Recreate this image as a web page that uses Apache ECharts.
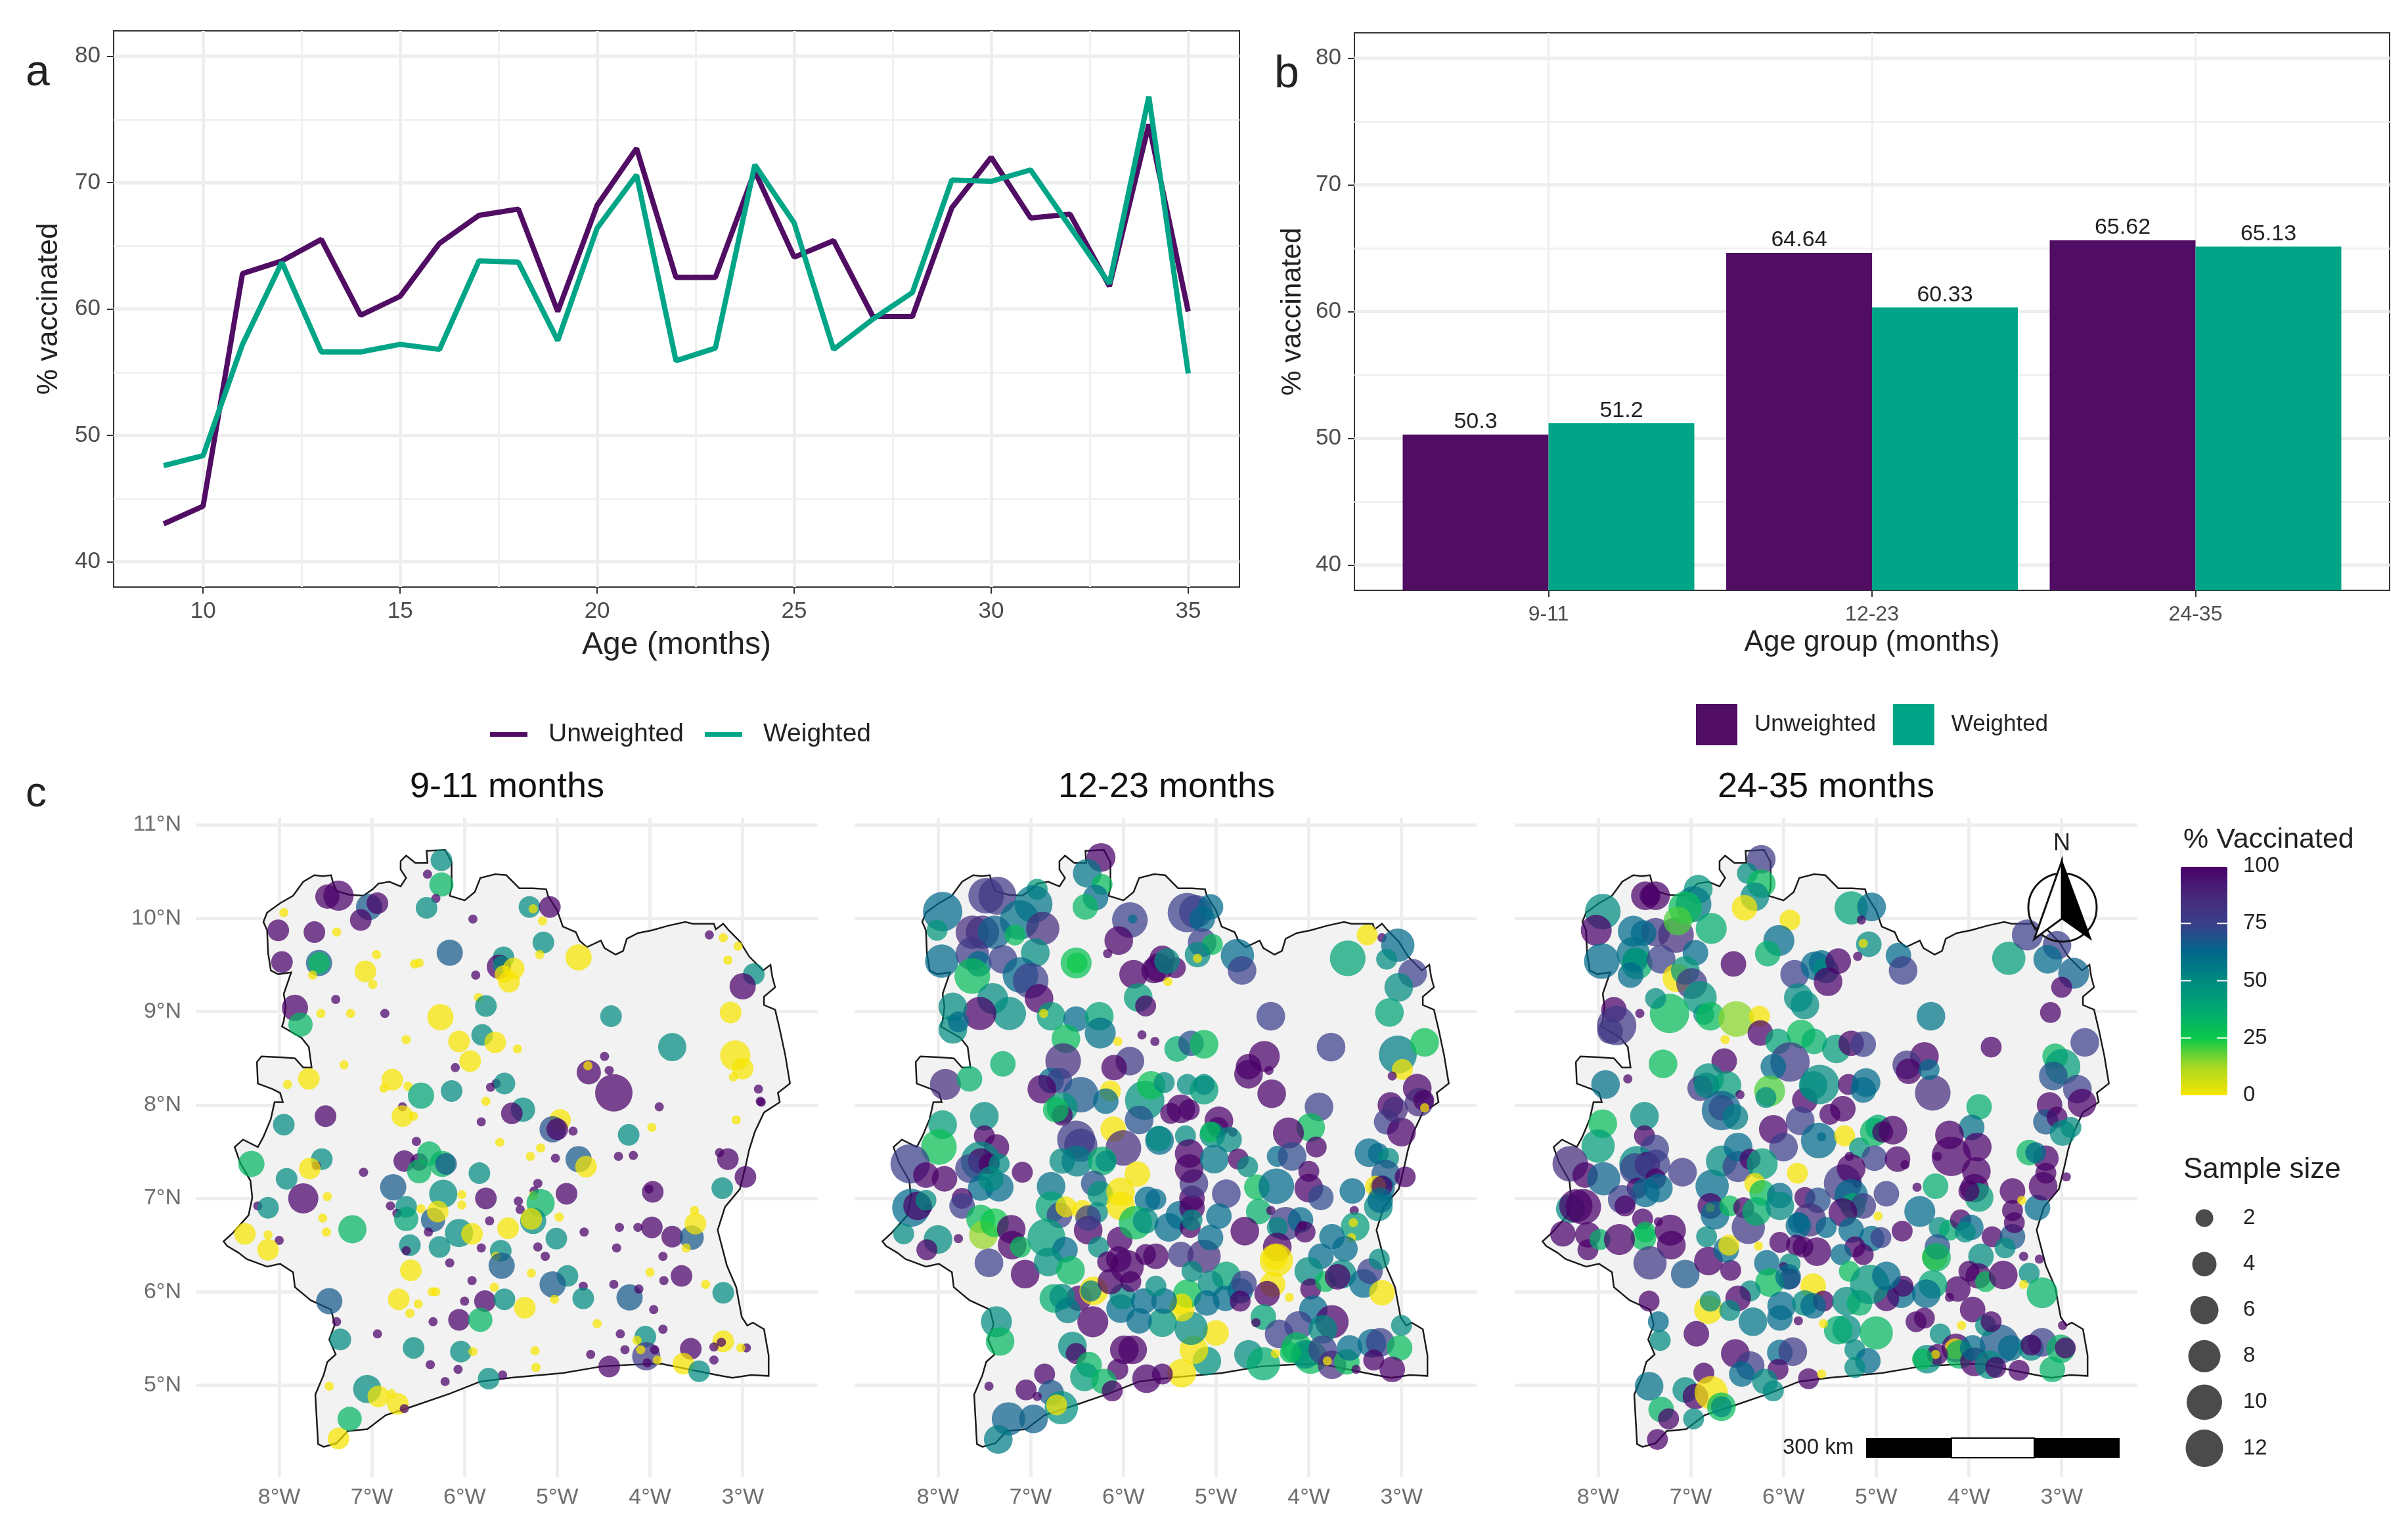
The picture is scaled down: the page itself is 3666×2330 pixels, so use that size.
<!DOCTYPE html>
<html>
<head>
<meta charset="utf-8">
<title>Vaccination coverage</title>
<style>html,body{margin:0;background:#fff}#main{width:3666px;height:2330px}</style>
<script src="https://cdn.jsdelivr.net/npm/echarts@6/dist/echarts.min.js"></script>
</head>
<body>
<div id="main"></div>
<script>
// panel a
var ages = [9,10,11,12,13,14,15,16,17,18,19,20,21,22,23,24,25,26,27,28,29,30,31,32,33,34,35];
var unweightedByAge = [43.0,44.4,62.8,63.8,65.5,59.5,61.0,65.2,67.4,67.9,59.8,68.2,72.7,62.5,62.5,70.9,64.1,65.4,59.4,59.4,68.0,72.0,67.2,67.5,61.8,74.6,59.8];
var weightedByAge = [47.6,48.4,57.2,63.7,56.6,56.6,57.2,56.8,63.8,63.7,57.5,66.4,70.6,55.9,56.9,71.4,66.8,56.8,59.2,61.3,70.2,70.1,71.0,66.5,62.0,76.8,54.9];

// panel b
var ageGroups = ['9-11','12-23','24-35'];
var unweightedByGroup = [50.3,64.64,65.62];
var weightedByGroup = [51.2,60.33,65.13];

// panel c: country outline [lon, lat]
var outline = [[-8.17,9.96],[-8.13,10.06],[-7.99,10.16],[-7.85,10.24],[-7.74,10.39],[-7.62,10.46],[-7.53,10.45],[-7.44,10.46],[-7.42,10.38],[-7.38,10.29],[-7.24,10.25],[-7.09,10.24],[-6.99,10.31],[-6.93,10.37],[-6.81,10.39],[-6.69,10.34],[-6.63,10.43],[-6.69,10.52],[-6.69,10.61],[-6.63,10.67],[-6.53,10.59],[-6.40,10.59],[-6.41,10.72],[-6.21,10.73],[-6.14,10.6],[-6.14,10.33],[-6.16,10.24],[-6.0,10.19],[-5.89,10.28],[-5.83,10.43],[-5.67,10.47],[-5.55,10.46],[-5.41,10.32],[-5.26,10.32],[-5.12,10.31],[-5.10,10.24],[-5.0,10.08],[-4.94,9.91],[-4.80,9.85],[-4.76,9.76],[-4.68,9.69],[-4.53,9.76],[-4.49,9.68],[-4.37,9.61],[-4.29,9.65],[-4.25,9.78],[-4.13,9.84],[-3.98,9.87],[-3.80,9.92],[-3.62,9.96],[-3.54,9.94],[-3.31,9.94],[-3.29,9.88],[-3.21,9.94],[-3.15,9.87],[-3.03,9.75],[-2.93,9.59],[-2.78,9.44],[-2.70,9.50],[-2.68,9.37],[-2.65,9.26],[-2.77,9.16],[-2.77,9.07],[-2.65,9.02],[-2.60,8.81],[-2.54,8.53],[-2.49,8.23],[-2.62,8.13],[-2.60,8.03],[-2.77,7.92],[-2.87,7.71],[-2.93,7.52],[-2.97,7.34],[-3.03,7.10],[-3.19,6.91],[-3.27,6.66],[-3.17,6.28],[-3.07,6.05],[-3.01,5.73],[-2.95,5.64],[-2.89,5.67],[-2.77,5.60],[-2.72,5.32],[-2.72,5.10],[-2.91,5.11],[-3.11,5.08],[-3.23,5.10],[-3.48,5.15],[-3.88,5.23],[-4.21,5.22],[-4.53,5.20],[-4.94,5.13],[-5.51,5.08],[-5.83,5.04],[-6.16,4.91],[-6.57,4.77],[-6.85,4.68],[-7.05,4.53],[-7.26,4.51],[-7.38,4.38],[-7.52,4.34],[-7.58,4.37],[-7.61,4.90],[-7.52,5.11],[-7.48,5.25],[-7.39,5.33],[-7.46,5.49],[-7.40,5.65],[-7.44,5.81],[-7.66,5.91],[-7.83,6.05],[-7.85,6.21],[-7.99,6.30],[-8.13,6.27],[-8.35,6.35],[-8.44,6.42],[-8.56,6.49],[-8.60,6.54],[-8.50,6.63],[-8.33,6.82],[-8.29,7.01],[-8.31,7.19],[-8.42,7.38],[-8.48,7.55],[-8.39,7.63],[-8.23,7.55],[-8.17,7.66],[-8.09,7.85],[-8.05,8.03],[-7.96,8.03],[-7.99,8.13],[-8.07,8.17],[-8.23,8.23],[-8.24,8.46],[-8.19,8.52],[-7.97,8.51],[-7.83,8.50],[-7.74,8.40],[-7.65,8.40],[-7.68,8.62],[-7.76,8.72],[-7.97,8.84],[-7.95,8.90],[-7.93,9.05],[-7.95,9.19],[-7.87,9.42],[-8.01,9.40],[-8.09,9.44],[-8.12,9.63],[-8.13,9.87]];

// clusters: [lon, lat, sample size, % vaccinated]
var clusters911 = [
[-6.25,10.62,3,50],[-6.25,10.36,4,33],[-6.40,10.47,1,100],[-6.31,10.21,1,100],[-7.36,10.24,7,100],[-7.48,10.23,4,100],[-7.03,10.12,5,67],[-6.94,10.16,3,100],[-7.12,9.98,3,100],[-6.41,10.11,3,50],[-7.95,10.06,1,0],[-8.01,9.87,3,100],[-7.62,9.85,3,100],[-7.38,9.85,1,0],[-7.97,9.53,3,100],[-7.57,9.52,5,67],[-7.57,9.52,3,30],[-7.64,9.39,1,0],[-6.95,9.61,1,0],[-7.07,9.43,3,0],[-6.99,9.29,1,0],[-6.54,9.51,1,0],[-6.49,9.52,1,0],[-6.16,9.63,5,67],[-5.91,9.99,1,100],[-5.88,9.39,1,100],[-5.58,9.58,3,50],[-5.63,9.48,4,100],[-5.60,9.50,2,50],[-5.47,9.46,3,0],[-5.58,9.40,2,0],[-5.52,9.32,3,0],[-5.30,10.12,3,50],[-5.26,10.10,1,0],[-5.08,10.12,3,100],[-5.16,9.97,1,0],[-5.15,9.74,3,50],[-5.19,9.61,1,0],[-4.77,9.58,5,0],[-3.36,9.82,1,100],[-3.21,9.79,1,0],[-3.05,9.70,1,0],[-3.16,9.55,1,0],[-2.88,9.40,3,50],[-3.0,9.27,5,100],[-3.13,8.99,3,0],[-4.42,8.95,3,50],[-3.76,8.62,6,50],[-3.08,8.53,7,0],[-3.0,8.39,3,0],[-3.10,8.30,1,0],[-4.49,8.52,1,100],[-4.44,8.37,1,100],[-4.66,8.35,4,100],[-4.67,8.42,1,0],[-4.39,8.13,12,100],[-3.90,7.98,1,100],[-2.83,8.17,1,100],[-2.81,8.04,1,100],[-2.80,8.03,1,100],[-3.07,7.84,1,0],
[-7.39,9.13,1,100],[-7.83,9.04,5,100],[-7.77,8.86,4,33],[-7.55,8.98,1,0],[-7.23,8.98,1,0],[-6.86,8.98,1,100],[-6.26,8.94,5,0],[-5.85,9.15,1,0],[-5.77,9.06,3,50],[-5.81,8.75,3,50],[-5.67,8.67,3,0],[-6.06,8.68,3,0],[-6.63,8.70,1,0],[-5.94,8.47,3,0],[-5.43,8.60,1,0],[-6.10,8.40,1,100],[-7.30,8.43,1,0],[-7.68,8.28,3,0],[-7.91,8.22,1,0],[-6.78,8.27,3,0],[-6.87,8.18,1,0],[-6.61,8.20,1,0],[-6.47,8.10,5,40],[-6.14,8.15,3,50],[-5.72,8.19,1,100],[-5.66,8.23,1,100],[-5.57,8.23,3,50],[-5.77,8.04,1,0],[-6.67,7.98,1,100],[-6.67,7.88,3,0],[-6.55,7.88,1,0],[-7.50,7.88,3,100],[-7.95,7.79,3,50],[-5.82,7.82,1,100],[-5.37,7.95,4,50],[-5.49,7.91,3,100],[-4.97,7.84,3,0],[-5.05,7.74,5,70],[-5.0,7.74,3,100],[-4.83,7.72,1,100],[-3.98,7.76,1,0],[-4.23,7.68,3,50],
[-6.52,7.61,1,100],[-5.62,7.60,1,0],[-5.18,7.54,1,0],[-5.29,7.45,1,0],[-5.02,7.43,1,100],[-4.77,7.42,5,67],[-4.69,7.34,3,0],[-4.34,7.45,1,100],[-4.18,7.46,1,100],[-3.25,7.49,1,100],[-3.16,7.42,3,100],[-2.97,7.23,3,100],[-3.22,7.11,3,50],[-3.97,7.07,3,100],[-4.01,7.10,1,100],[-7.54,7.42,3,50],[-7.60,7.35,1,100],[-7.67,7.32,3,0],[-8.30,7.37,5,33],[-7.92,7.21,3,50],[-7.09,7.28,1,100],[-6.65,7.40,3,100],[-6.49,7.39,2,100],[-6.38,7.48,4,33],[-6.24,7.37,5,33],[-6.20,7.37,3,67],[-6.49,7.29,4,33],[-5.84,7.27,3,50],[-6.77,7.12,5,67],[-6.23,7.05,6,50],[-7.74,7.0,7,100],[-7.48,7.02,1,0],[-8.23,6.92,1,100],[-8.12,6.90,3,50],[-7.53,6.79,1,0],[-7.49,6.64,1,0],[-8.37,6.62,3,0],[-8.12,6.61,1,0],[-8.0,6.55,1,100],[-8.12,6.45,3,0],[-7.21,6.67,6,33],[-6.80,6.92,1,100],[-6.63,6.91,3,50],[-6.73,6.84,1,100],[-6.63,6.78,4,40],[-6.47,6.89,1,0],[-6.34,6.77,4,67],[-6.29,6.86,3,0],[-6.03,7.04,1,0],[-6.03,6.93,1,0],[-5.77,7.0,3,100],[-5.21,7.16,1,100],[-5.25,7.08,1,100],[-5.26,7.03,1,0],[-5.42,6.97,1,100],[-5.40,6.88,1,100],[-4.90,7.05,3,100],[-5.18,6.95,6,33],[-5.26,6.76,5,50],[-5.28,6.78,3,0],[-5.53,6.68,3,0],[-5.73,6.76,1,100],[-4.98,6.80,1,0],
[-6.06,6.63,6,50],[-5.92,6.62,3,0],[-6.39,6.64,1,100],[-6.59,6.50,3,50],[-6.63,6.44,1,100],[-6.27,6.48,3,50],[-5.82,6.47,1,100],[-5.61,6.44,3,50],[-5.66,6.38,1,0],[-5.60,6.28,5,67],[-5.21,6.48,1,100],[-5.13,6.38,1,100],[-5.01,6.57,3,50],[-4.71,6.64,1,100],[-4.36,6.47,1,100],[-4.33,6.69,1,100],[-4.13,6.69,1,100],[-3.98,6.69,3,100],[-3.76,6.59,3,100],[-3.55,6.58,4,67],[-3.51,6.73,3,0],[-3.52,6.87,1,0],[-3.61,6.47,1,0],[-3.86,6.38,1,100],[-6.58,6.23,3,0],[-6.16,6.31,1,100],[-5.28,6.20,1,0],[-4.89,6.17,3,50],[-5.05,6.08,5,67],[-4.0,6.21,1,0],[-3.85,6.12,1,100],[-3.66,6.17,3,100],[-3.40,6.08,1,0],[-4.39,6.08,1,100],[-4.72,6.06,1,100],[-5.92,6.12,1,100],[-5.68,6.05,1,0],[-6.35,6.0,1,0],[-6.31,6.0,1,0],[-6.71,5.92,3,0],[-6.50,5.87,1,0],[-6.59,5.77,1,0],[-6.0,5.90,1,100],[-5.78,5.90,3,100],[-5.57,5.92,3,50],[-5.35,5.83,3,0],[-5.03,5.92,1,0],[-4.72,5.93,3,50],[-4.22,5.94,5,67],[-4.12,6.03,1,100],[-3.96,5.81,1,100],[-3.21,5.99,3,50],[-7.46,5.90,5,67],[-7.38,5.68,1,100],[-6.34,5.68,1,100],[-6.06,5.70,3,100],[-5.83,5.70,4,33],[-4.57,5.66,1,0],[-6.94,5.55,1,100],[-7.34,5.49,3,50],[-6.55,5.40,3,50],[-6.04,5.36,3,50],[-5.91,5.36,1,0],[-3.86,5.60,1,100],[-4.32,5.55,1,100],[-4.05,5.52,3,50],[-3.21,5.47,3,0],[-3.23,5.46,1,100],[-3.56,5.39,3,100],[-3.31,5.41,1,100],[-2.96,5.40,1,100],[-3.02,5.40,1,0],[-4.14,5.48,1,0],[-4.04,5.31,6,78],[-4.10,5.38,1,0],[-3.95,5.38,1,100],[-3.92,5.27,1,0],[-4.03,5.24,1,100],[-4.27,5.38,1,100],[-4.64,5.33,1,100],[-5.24,5.37,1,0],[-5.23,5.19,1,0],[-4.44,5.20,3,100],[-3.64,5.23,3,0],[-3.47,5.15,3,50],[-3.31,5.27,1,100],[-6.37,5.22,1,100],[-6.07,5.17,1,100],[-6.21,5.04,1,100],[-5.59,5.11,1,100],[-5.74,5.07,3,50],[-7.46,4.99,1,0],[-7.05,4.96,6,50],[-6.93,4.88,3,0],[-6.79,4.91,1,0],[-6.72,4.80,3,0],[-6.65,4.75,1,100],[-7.24,4.64,4,33],[-7.36,4.43,3,0]
];

var clusters1223 = [
[-6.24,10.65,4,100],[-6.39,10.48,4,58],[-6.23,10.36,2,30],[-6.30,10.22,3,62],[-6.41,10.12,3,32],[-6.93,10.31,2,45],[-7.95,10.07,10,62],[-8.01,9.87,2,45],[-7.48,10.24,7,80],[-7.36,10.24,8,80],[-6.97,10.15,8,58],[-7.12,9.98,10,60],[-6.87,9.89,6,85],[-7.63,9.85,6,85],[-7.52,9.85,6,85],[-7.39,9.85,6,65],[-7.17,9.82,2,30],[-7.96,9.54,6,62],[-7.63,9.62,6,78],[-7.56,9.51,3,62],[-7.30,9.56,4,75],[-7.63,9.38,7,30],[-6.95,9.63,4,50],[-7.11,9.39,7,62],[-7.0,9.33,7,75],[-6.91,9.14,4,100],[-7.41,9.14,5,50],[-7.23,8.98,6,50],[-7.55,8.98,6,100],[-7.84,9.05,4,50],[-7.84,8.81,4,50],[-7.78,8.89,2,62],[-6.78,8.95,4,42],[-6.86,8.98,1,0],[-6.51,9.52,5,28],[-6.50,9.52,2,25],[-5.93,9.98,7,75],[-5.90,9.99,1,60],[-6.05,9.76,4,100],[-6.17,9.62,1,100],[-5.89,9.40,4,100],[-5.62,9.47,4,100],[-5.58,9.57,3,100],[-5.67,9.44,3,100],[-5.44,9.47,2,100],[-5.53,9.54,3,50],[-5.52,9.32,1,0],[-5.84,9.15,4,42],[-5.76,9.06,2,100],[-6.51,8.92,3,62],[-6.26,8.95,4,40],[-6.25,8.77,5,60],[-6.62,8.71,4,30],[-5.80,8.75,1,100],[-5.66,8.68,1,100],[-6.06,8.68,1,0],[-5.31,10.06,9,75],[-5.22,10.07,6,75],[-5.06,10.12,3,62],[-5.15,9.99,3,62],[-5.15,9.74,4,75],[-5.04,9.72,2,30],[-5.20,9.61,3,50],[-5.20,9.57,1,0],[-4.77,9.6,6,62],[-4.72,9.44,4,75],[-3.37,9.82,2,0],[-3.21,9.79,1,100],[-3.04,9.71,6,62],[-3.16,9.56,2,50],[-2.88,9.41,4,75],[-3.03,9.26,4,50],[-3.58,9.57,7,40],[-3.13,8.99,4,40],[-4.41,8.95,4,75],[-3.76,8.62,4,75],[-3.04,8.54,8,55],[-2.75,8.67,4,28],[-2.99,8.38,2,0],[-3.10,8.31,1,100],[-2.83,8.18,4,100],[-2.81,8.03,4,85],[-2.76,8.05,2,100],[-2.75,7.97,1,0],
[-3.89,7.98,4,75],[-3.98,7.76,4,30],[-4.22,7.70,5,100],[-3.92,7.55,2,100],[-4.40,8.12,4,100],[-4.48,8.52,5,100],[-4.65,8.41,3,100],[-4.65,8.33,4,100],[-4.43,8.37,1,100],[-5.42,8.60,3,36],[-5.27,8.66,3,70],[-5.13,8.65,4,30],[-5.93,8.47,4,80],[-6.10,8.40,3,100],[-7.30,8.44,3,35],[-6.65,8.47,7,85],[-6.78,8.26,3,62],[-6.69,8.26,3,75],[-7.92,8.22,5,85],[-7.66,8.28,3,35],[-6.88,8.17,4,100],[-6.46,8.11,7,68],[-6.66,7.97,5,45],[-6.66,7.89,2,100],[-6.73,7.95,3,30],[-6.14,8.15,2,0],[-6.19,8.04,3,62],[-5.77,8.05,10,48],[-5.70,8.21,4,28],[-5.56,8.24,2,50],[-5.83,7.84,4,70],[-5.31,8.22,2,50],[-5.13,8.16,4,42],[-5.13,8.22,2,50],[-5.38,7.96,4,100],[-5.49,7.91,2,100],[-5.29,7.95,2,100],[-4.97,7.83,4,100],[-4.98,7.76,2,100],[-4.82,7.71,1,100],[-5.04,7.68,3,50],[-5.06,7.71,2,30],[-4.86,7.63,3,50],[-6.11,7.74,3,0],[-6.0,7.54,7,85],[-6.51,7.63,8,78],[-6.46,7.57,6,78],[-5.61,7.62,4,62],[-5.62,7.64,3,50],[-5.33,7.67,2,50],[-7.95,7.79,4,42],[-7.50,7.88,4,50],[-7.99,7.55,7,28],[-7.50,7.67,2,100],[-7.37,7.55,3,100],[-8.30,7.37,11,75],[-8.13,7.25,3,100],[-7.93,7.21,3,100],[-7.09,7.28,2,100],[-7.54,7.40,10,50],[-7.54,7.40,3,100],[-7.66,7.32,4,75],[-7.45,7.37,2,100],[-7.34,7.37,2,50],[-7.34,7.12,4,62],[-7.54,7.11,3,62],[-7.43,7.21,3,50],
[-8.29,6.90,8,62],[-8.22,6.92,4,100],[-8.11,6.90,1,100],[-8.13,6.98,2,50],[-7.74,7.0,2,100],[-7.74,6.92,3,75],[-8.37,6.62,2,50],[-8.0,6.56,4,50],[-7.78,6.57,1,100],[-8.12,6.45,2,100],[-7.54,6.78,4,30],[-7.51,6.61,4,14],[-7.39,6.74,4,25],[-7.21,6.67,4,100],[-7.20,6.50,4,100],[-7.11,6.48,2,30],[-7.45,6.31,4,75],[-7.06,6.19,4,100],[-6.78,7.13,4,60],[-6.78,6.91,5,40],[-6.69,6.82,3,75],[-6.62,6.91,2,0],[-6.66,7.40,3,50],[-6.50,7.40,5,55],[-6.23,7.40,4,36],[-6.19,7.40,2,50],[-6.32,7.16,3,70],[-5.85,7.26,3,0],[-6.25,7.05,3,45],[-6.03,7.07,4,0],[-6.03,6.92,4,0],[-5.74,6.99,3,62],[-5.65,6.99,2,62],[-6.44,6.87,2,0],[-6.28,6.85,2,50],[-6.38,6.66,4,100],[-6.38,6.79,3,75],[-6.83,6.58,8,42],[-6.63,6.45,3,62],[-6.81,6.32,4,48],[-6.57,6.23,4,32],[-6.27,6.48,2,50],[-6.04,6.56,3,100],[-5.87,6.74,6,30],[-5.76,6.76,3,50],[-5.51,6.69,4,62],[-5.39,6.82,4,62],[-5.26,7.0,3,100],[-5.26,6.9,3,100],[-5.24,7.16,4,80],[-5.29,7.32,4,100],[-5.29,7.48,4,100],[-5.28,6.69,2,100],[-5.26,6.77,2,50],[-5.02,7.42,4,58],[-4.76,7.42,2,100],[-4.66,7.34,2,50],[-4.89,7.05,4,75],[-4.97,6.81,3,62],[-4.56,7.12,3,30],[-4.35,7.13,7,62],[-4.54,6.86,3,35],[-4.34,7.45,2,62],[-4.18,7.45,4,72],[-4.0,7.29,2,100],[-4.0,7.11,4,100],[-3.87,7.01,3,72],[-3.53,7.08,3,62],[-3.51,6.87,1,100],[-3.35,7.49,4,62],[-3.25,7.48,2,62],[-3.14,7.43,2,50],[-3.17,7.26,4,68],[-2.96,7.23,2,100],[-3.12,8.0,3,100],[-3.16,7.82,3,75],[-3.0,7.71,4,100],[-3.07,7.95,3,85],[-3.21,7.11,3,62],[-3.28,7.13,2,0],[-3.21,7.13,2,100],[-3.25,6.91,4,50],[-3.23,6.98,3,62],[-4.41,6.87,1,100],[-4.25,6.73,6,78],[-4.34,6.69,2,50],[-4.09,6.77,3,62],[-4.04,6.64,2,100],[-4.07,6.71,1,100],[-4.69,6.65,4,100],[-3.50,6.70,4,42],[-3.52,6.74,1,0],[-3.54,6.58,1,0],[-3.75,6.59,3,62],[-3.61,6.46,3,62],[-3.87,6.38,3,62],
[-4.0,6.22,4,50],[-3.98,6.03,2,100],[-3.82,6.11,2,30],[-3.64,6.19,4,50],[-3.69,6.16,3,100],[-3.41,6.09,4,62],[-3.34,6.22,3,75],[-3.24,6.35,2,50],[-3.21,5.99,3,0],[-3.0,5.64,2,50],[-4.34,6.48,4,100],[-4.36,6.37,3,0],[-4.35,6.34,6,0],[-4.39,6.08,3,0],[-4.45,5.98,3,100],[-4.21,5.94,1,0],[-4.49,5.73,3,40],[-4.57,5.67,1,100],[-3.95,5.81,4,62],[-4.32,5.55,4,75],[-4.11,5.64,4,75],[-3.75,5.68,6,100],[-3.85,5.60,4,50],[-4.13,5.40,5,30],[-3.98,5.30,6,30],[-4.04,5.33,4,50],[-4.20,5.35,2,30],[-3.85,5.38,4,75],[-3.75,5.22,4,85],[-3.80,5.26,1,0],[-3.59,5.25,3,30],[-3.56,5.40,3,62],[-3.32,5.45,4,62],[-3.23,5.46,4,75],[-3.30,5.27,2,100],[-3.02,5.40,3,30],[-3.49,5.17,1,100],[-3.10,5.17,3,100],[-4.65,5.33,4,50],[-4.49,5.23,6,36],[-4.36,5.34,1,0],[-5.10,5.26,4,48],[-5.24,5.38,4,0],[-5.37,5.13,4,0],[-5.0,5.56,3,0],[-5.27,5.61,6,50],[-5.37,5.82,3,0],[-5.31,5.98,4,28],[-5.37,5.87,2,0],[-5.58,5.67,4,46],[-5.83,5.69,3,62],[-6.03,5.82,4,62],[-6.01,5.95,3,50],[-5.78,5.90,3,62],[-5.56,5.90,3,62],[-5.65,6.06,2,50],[-6.33,5.68,5,100],[-6.48,5.93,3,100],[-6.75,5.93,4,36],[-6.66,5.95,3,50],[-6.60,5.80,3,55],[-6.32,6.01,4,0],[-6.35,6.01,2,55],[-6.14,6.11,3,100],[-5.96,6.27,6,100],[-6.05,6.35,3,100],[-6.17,6.32,2,100],[-5.92,6.11,2,100],[-5.65,6.38,3,100],[-5.76,6.40,2,100],[-5.38,6.40,3,78],[-5.13,6.38,6,85],[-5.26,6.22,2,50],[-5.06,6.58,3,62],[-4.89,6.17,4,40],[-5.06,6.09,3,50],[-4.74,6.01,3,62],[-4.70,6.09,3,75],[-5.10,5.88,3,62],[-4.90,5.93,3,62],[-4.74,5.90,2,100],[-7.37,5.68,5,50],[-7.33,5.47,4,32],[-6.55,5.42,4,50],[-6.51,5.34,2,100],[-5.99,5.38,4,100],[-5.90,5.38,4,100],[-6.06,5.17,2,100],[-6.37,5.22,3,32],[-6.42,5.09,4,42],[-6.21,5.04,3,32],[-6.12,4.94,2,100],[-5.75,5.07,4,100],[-5.58,5.12,2,100],[-6.85,5.12,2,100],[-7.05,4.95,2,100],[-7.45,4.99,1,100],[-6.78,4.92,3,68],[-6.93,4.88,1,100],[-6.67,4.76,6,48],[-6.72,4.79,2,0],[-7.24,4.64,6,65],[-6.97,4.64,4,65],[-7.35,4.42,4,56]
];

var clusters2435 = [
[-6.24,10.63,4,78],[-6.39,10.48,2,50],[-6.24,10.37,4,30],[-6.31,10.23,4,52],[-6.42,10.11,3,0],[-7.38,10.24,4,100],[-7.49,10.24,4,100],[-7.44,10.24,2,100],[-7.95,10.07,7,50],[-8.02,9.87,5,100],[-7.96,9.54,7,62],[-7.62,9.86,5,62],[-7.38,9.85,4,80],[-7.51,9.84,3,62],[-7.16,9.82,7,85],[-6.92,10.31,4,46],[-6.97,10.15,7,58],[-7.06,10.11,6,30],[-7.14,9.97,4,20],[-6.78,9.89,5,36],[-5.93,9.98,2,0],[-6.05,9.76,5,62],[-6.17,9.62,3,35],[-6.95,9.63,3,62],[-7.62,9.62,6,60],[-7.58,9.51,5,35],[-7.60,9.55,3,50],[-7.32,9.56,4,75],[-7.65,9.39,3,62],[-6.54,9.51,3,100],[-5.88,9.4,4,75],[-5.66,9.49,4,62],[-5.59,9.52,3,62],[-5.54,9.44,3,50],[-5.41,9.54,3,100],[-5.52,9.32,4,100],[-7.15,9.36,4,0],[-7.06,9.44,4,45],[-6.99,9.30,5,80],[-6.90,9.15,6,46],[-6.86,8.97,2,50],[-6.79,8.95,4,30],[-6.51,8.92,7,15],[-6.26,8.95,2,0],[-7.23,8.98,11,30],[-7.38,9.14,2,50],[-7.55,8.98,1,100],[-7.83,9.02,3,100],[-7.8,8.85,10,80],[-7.87,8.79,3,80],[-5.84,9.15,4,50],[-5.77,9.07,4,50],[-6.25,8.77,3,100],[-5.81,8.76,4,30],[-5.67,8.68,3,35],[-6.06,8.68,3,40],[-5.43,8.60,4,42],[-5.27,8.66,3,100],[-5.14,8.65,3,75],[-6.63,8.70,1,0],[-5.27,10.11,6,40],[-5.05,10.12,4,62],[-5.16,9.98,1,100],[-5.08,9.72,3,50],[-5.14,9.73,1,0],[-5.20,9.59,1,100],[-4.76,9.60,3,62],[-4.71,9.44,4,75],[-3.57,9.57,6,42],[-3.37,9.82,5,75],[-3.05,9.71,4,75],[-3.15,9.56,4,62],[-2.87,9.41,5,65],[-3.0,9.26,2,100],[-3.12,8.99,2,100],[-4.41,8.95,4,58],[-3.76,8.62,2,100],[-3.07,8.52,3,32],[-2.99,8.41,7,42],[-3.09,8.31,4,70],[-2.75,8.67,4,75],[-2.83,8.17,4,75],[-2.78,8.02,4,100],
[-3.89,7.98,3,36],[-3.97,7.76,3,60],[-4.39,8.13,7,85],[-4.48,8.52,4,100],[-4.67,8.43,4,80],[-4.65,8.36,3,100],[-4.43,8.38,2,62],[-7.30,8.44,4,30],[-6.64,8.47,3,100],[-7.92,8.22,4,60],[-7.68,8.28,1,100],[-5.93,8.46,9,78],[-6.11,8.41,3,62],[-6.81,8.28,5,48],[-6.90,8.18,3,80],[-6.61,8.21,4,42],[-6.83,8.21,3,50],[-6.15,8.15,5,20],[-6.19,8.08,2,50],[-6.47,8.11,1,100],[-6.67,7.94,9,65],[-6.67,7.97,3,72],[-6.52,7.87,3,55],[-5.77,8.05,3,100],[-5.61,8.22,11,50],[-5.68,8.21,4,50],[-5.30,8.22,2,100],[-5.11,8.24,4,62],[-5.14,8.16,3,62],[-5.36,7.96,3,100],[-5.50,7.90,2,100],[-5.82,7.83,4,75],[-6.11,7.74,4,100],[-6.0,7.55,4,75],[-5.62,7.62,7,62],[-5.59,7.66,1,62],[-5.34,7.67,2,0],[-5.18,7.54,2,46],[-5.02,7.71,4,32],[-4.98,7.76,3,36],[-4.82,7.73,4,100],[-4.93,7.71,2,100],[-5.02,7.43,3,75],[-5.29,7.45,1,100],[-4.77,7.42,3,100],[-4.69,7.36,1,100],[-4.21,7.68,4,100],[-3.91,7.55,4,100],[-4.19,7.45,9,100],[-4.34,7.45,1,100],[-3.92,7.29,4,100],[-3.94,7.11,4,100],[-3.89,7.01,4,42],[-4.0,7.08,2,100],[-4.36,7.13,3,36],[-4.56,7.12,1,100],[-7.50,7.88,4,50],[-7.95,7.80,4,30],[-8.0,7.56,6,42],[-7.50,7.67,2,100],[-7.39,7.53,4,75],[-8.30,7.37,7,85],[-8.14,7.25,3,100],[-7.94,7.21,6,65],[-7.58,7.37,7,50],[-7.47,7.36,3,100],[-7.60,7.32,5,75],[-7.38,7.37,4,75],[-7.58,7.11,2,100],[-7.38,7.21,2,100],[-7.49,7.06,4,62],[-7.35,7.11,4,62],[-7.09,7.28,4,78],
[-8.30,6.89,4,50],[-8.24,6.92,6,100],[-8.16,6.91,7,100],[-7.74,6.99,4,75],[-7.71,6.92,2,100],[-7.52,6.78,2,100],[-7.35,6.75,1,100],[-7.51,6.58,3,30],[-7.49,6.64,2,30],[-7.22,6.66,5,100],[-7.21,6.50,4,100],[-8.38,6.62,3,100],[-8.11,6.61,3,100],[-8.11,6.45,2,100],[-7.98,6.56,2,35],[-7.77,6.56,5,100],[-7.44,6.31,6,80],[-7.06,6.19,4,68],[-6.81,6.33,4,100],[-6.83,6.59,2,50],[-6.57,6.23,2,100],[-6.62,6.45,3,62],[-6.59,6.50,2,0],[-6.77,7.13,6,62],[-6.79,6.92,3,100],[-6.79,6.90,1,0],[-6.74,6.82,4,62],[-6.58,6.92,2,30],[-6.43,6.90,2,100],[-6.67,7.40,5,50],[-6.49,7.34,5,75],[-6.49,7.55,4,62],[-6.36,7.42,2,100],[-6.23,7.37,5,42],[-6.31,7.16,2,0],[-6.23,7.06,3,30],[-5.85,7.27,2,0],[-6.38,6.69,6,80],[-6.29,6.86,4,35],[-6.04,7.03,3,62],[-6.04,6.92,4,50],[-5.77,7.01,2,100],[-5.63,6.98,3,70],[-5.72,6.77,6,85],[-5.84,6.71,3,62],[-6.04,6.53,2,100],[-6.27,6.49,1,0],[-5.86,6.50,2,100],[-5.64,6.43,4,100],[-5.79,6.48,2,100],[-6.18,6.31,3,62],[-5.93,6.30,2,50],[-6.0,6.27,1,100],[-5.93,6.14,2,100],[-6.15,6.10,4,30],[-6.36,6.01,2,50],[-5.68,6.06,3,0],[-5.95,6.16,3,62],[-5.36,7.16,8,78],[-5.27,7.32,4,100],[-5.21,7.16,1,100],[-5.27,7.03,6,62],[-5.25,6.92,3,36],[-5.14,6.92,3,78],[-5.36,6.85,4,100],[-5.27,6.66,3,62],[-4.89,7.05,3,75],[-4.98,6.81,1,0],[-4.53,6.86,5,62],[-4.72,6.65,2,100],[-5.54,6.69,2,62],[-5.84,6.74,2,62],[-5.05,6.57,3,62],[-4.95,6.58,2,75],[-5.23,6.48,2,100],[-5.14,6.40,2,100],[-5.38,6.40,2,62],
[-4.32,6.69,2,50],[-4.21,6.66,2,36],[-4.09,6.77,2,100],[-3.98,6.69,3,62],[-4.04,6.64,2,50],[-3.75,6.59,2,100],[-3.53,6.59,3,68],[-3.61,6.47,2,50],[-3.53,6.87,2,100],[-3.51,6.74,2,100],[-3.53,7.08,3,100],[-3.43,6.98,1,0],[-3.26,6.90,3,62],[-3.2,7.13,4,100],[-3.17,7.43,3,100],[-3.17,7.27,2,100],[-3.35,7.49,3,32],[-3.28,7.49,2,62],[-2.95,7.23,1,100],[-3.13,8.0,3,100],[-3.17,7.82,3,68],[-3.05,7.87,2,100],[-2.99,7.70,3,50],[-2.90,7.76,2,50],[-4.37,6.37,3,15],[-4.34,6.48,3,70],[-4.35,6.37,4,32],[-3.87,6.38,3,50],[-4.0,6.22,2,100],[-3.90,6.17,3,100],[-3.82,6.11,2,30],[-3.63,6.18,4,100],[-4.12,6.03,3,100],[-4.21,5.94,1,100],[-4.39,6.08,4,38],[-4.46,5.98,4,62],[-4.73,5.98,4,62],[-4.89,5.93,3,100],[-4.71,6.06,2,100],[-3.96,5.81,3,100],[-3.41,6.38,1,100],[-3.24,6.35,1,100],[-3.35,6.20,2,50],[-3.41,6.08,1,0],[-3.21,5.99,5,34],[-2.99,5.64,1,100],[-4.57,5.68,2,100],[-4.48,5.72,2,100],[-4.31,5.55,2,50],[-4.08,5.64,1,0],[-3.67,5.44,9,68],[-3.82,5.64,2,50],[-3.76,5.68,2,100],[-4.14,5.40,4,100],[-4.15,5.39,2,0],[-4.10,5.33,4,32],[-3.94,5.25,4,100],[-3.96,5.40,3,62],[-3.78,5.22,4,50],[-3.55,5.40,3,62],[-3.71,5.19,2,100],[-3.33,5.40,3,50],[-3.21,5.46,4,75],[-3.33,5.43,2,100],[-3.01,5.39,4,34],[-2.96,5.40,2,100],[-3.10,5.17,3,34],[-3.46,5.16,2,100],[-4.45,5.28,4,50],[-4.34,5.33,2,100],[-4.36,5.33,1,0],[-4.50,5.28,2,30],[-5.23,5.38,2,50],[-5.09,5.26,3,62],[-5.23,5.19,2,50],[-5.32,5.60,4,50],[-5.41,5.59,4,36],[-5.0,5.56,6,32],[-5.57,5.66,1,0],[-5.84,5.69,1,100],[-6.33,5.68,4,58],[-6.04,5.72,3,62],[-6.02,5.85,4,62],[-6.49,5.93,3,100],[-6.81,5.81,4,0],[-6.58,5.80,2,50],[-6.79,5.90,2,50],[-5.77,5.88,3,50],[-5.57,5.90,2,100],[-5.68,5.85,3,62],[-5.32,5.90,4,50],[-5.18,5.88,3,35],[-5.29,6.22,2,30],[-5.07,6.08,9,46],[-4.89,6.17,4,62],[-7.35,5.68,2,62],[-7.33,5.48,2,50],[-7.45,5.90,2,100],[-6.94,5.55,3,100],[-6.52,5.34,4,100],[-6.36,5.21,4,78],[-6.45,5.12,3,62],[-6.04,5.35,3,62],[-5.90,5.36,4,78],[-6.06,5.17,2,100],[-6.2,5.04,3,50],[-6.11,4.94,2,50],[-5.73,5.07,2,100],[-5.59,5.12,1,0],[-6.86,5.13,2,100],[-7.45,4.99,4,60],[-7.06,4.95,3,50],[-6.95,4.88,3,100],[-6.78,4.92,6,0],[-6.67,4.77,4,30],[-6.67,4.77,2,50],[-7.32,4.74,3,34],[-7.24,4.64,2,100],[-6.97,4.64,2,50],[-7.36,4.42,2,100]
];

// dot diameter for each sample size, same steps as the size legend
var sizeSteps = [0,14,27,33,37,40,43,46,49,52,54,56,57];
var colorTicks = [100,75,50,25,0];
var sizeTicks = [2,4,6,8,10,12];

var fontName = '"Liberation Sans", Arial, sans-serif';
var purple = '#500d63';
var teal = '#00a587';
var majorGrid = {show: true, lineStyle: {color: '#eeeeee', width: 5}};
var minorGrid = {show: true, lineStyle: {color: '#f1f1f1', width: 3}};

function valueAxis(grid, min, max, major, extra) {
    var axis = {
        type: 'value', gridIndex: grid, min: min, max: max,
        axisLine: {show: false},
        axisTick: {show: true, customValues: major, length: 10, lineStyle: {color: '#333', width: 2}},
        axisLabel: {show: true, customValues: major, color: '#4d4d4d', fontSize: 35, margin: 20},
        splitLine: majorGrid
    };
    for (var k in extra) axis[k] = extra[k];
    return axis;
}
function minorAxis(grid, min, max, ticks) {
    return {
        type: 'value', gridIndex: grid, min: min, max: max,
        axisLine: {show: false},
        axisTick: {show: false, customValues: ticks},
        axisLabel: {show: false, customValues: ticks},
        splitLine: minorGrid
    };
}

var yMajor = [40,50,60,70,80];
var yMinor = [45,55,65,75];
var lons = [-8,-7,-6,-5,-4,-3];
var lats = [5,6,7,8,9,10,11];
function lonLabel(v) { return Math.abs(v) + '°W'; }
function latLabel(v) { return v + '°N'; }

function mapAxes(grid, showLat) {
    xAxes.push(valueAxis(grid, -8.9, -2.19, lons, {
        axisTick: {show: false, customValues: lons},
        axisLabel: {show: true, customValues: lons, color: '#6e6e6e', fontSize: 34, margin: 15, formatter: lonLabel}
    }));
    yAxes.push(valueAxis(grid, 4.02, 11.07, lats, {
        axisTick: {show: false, customValues: lats},
        axisLabel: {show: showLat, customValues: lats, color: '#6e6e6e', fontSize: 34, margin: 22, formatter: latLabel}
    }));
}

var xAxes = [
    valueAxis(0, 7.73, 36.3, [10,15,20,25,30,35], {name: 'Age (months)', nameLocation: 'middle', nameGap: 65, nameTextStyle: {fontSize: 48, color: '#222'}}),
    minorAxis(0, 7.73, 36.3, [12.5,17.5,22.5,27.5,32.5]),
    valueAxis(1, 0.4, 3.6, [1,2,3], {
        name: 'Age group (months)', nameLocation: 'middle', nameGap: 58, nameTextStyle: {fontSize: 44, color: '#222'},
        axisLabel: {show: true, customValues: [1,2,3], color: '#4d4d4d', fontSize: 32, margin: 21, formatter: function (v) { return ageGroups[v - 1]; }},
        splitLine: {show: true, lineStyle: {color: '#eeeeee', width: 3}}
    })
];
var yAxes = [
    valueAxis(0, 38, 82, yMajor, {name: '% vaccinated', nameLocation: 'middle', nameGap: 76, nameTextStyle: {fontSize: 44, color: '#222'}}),
    minorAxis(0, 38, 82, yMinor),
    valueAxis(1, 38, 82, yMajor, {name: '% vaccinated', nameLocation: 'middle', nameGap: 72, nameTextStyle: {fontSize: 43, color: '#222'}}),
    minorAxis(1, 38, 82, yMinor)
];
mapAxes(2, true);
mapAxes(3, false);
mapAxes(4, false);
// xAxis index of the three maps: 3,4,5   yAxis index: 4,5,6

function countrySeries(i) {
    return {
        type: 'custom', coordinateSystem: 'cartesian2d', xAxisIndex: 3 + i, yAxisIndex: 4 + i,
        data: outline, silent: true, z: 2,
        renderItem: function (params, api) {
            if (params.dataIndex !== 0) return;
            return {
                type: 'polygon',
                shape: {points: outline.map(function (p) { return api.coord(p); })},
                style: {fill: '#f2f2f2', stroke: '#1c1c1c', lineWidth: 2.5}
            };
        }
    };
}
// the two denser panels were read a little small from the crops
function clusterSeries(i, rows, scale) {
    return {
        type: 'scatter', xAxisIndex: 3 + i, yAxisIndex: 4 + i, data: rows, z: 3,
        symbolSize: function (v) { return v[2] > 1 ? Math.min(60, sizeSteps[v[2]] * scale) : sizeSteps[v[2]]; },
        itemStyle: {opacity: 0.72},
        emphasis: {disabled: true}
    };
}
function barSeries(name, color, values) {
    return {
        name: name, type: 'bar', xAxisIndex: 2, yAxisIndex: 2,
        barWidth: 222, barGap: '0%',
        data: values.map(function (v, i) { return [i + 1, v]; }),
        itemStyle: {color: color},
        label: {show: true, position: 'top', distance: 2, fontSize: 34, color: '#222',
            formatter: function (p) { return p.value[1]; }}
    };
}
function lineSeries(name, color, values) {
    return {
        name: name, type: 'line', xAxisIndex: 0, yAxisIndex: 0, showSymbol: false,
        data: ages.map(function (a, i) { return [a, values[i]]; }),
        lineStyle: {color: color, width: 8}, itemStyle: {color: color}
    };
}

// legends on the right and the map furniture
var graphics = [];
function addText(x, y, text, size, align, color) {
    graphics.push({type: 'text', x: x, y: y, silent: true, z: 20, style: {
        text: text, font: size + 'px ' + fontName, fill: color || '#222',
        textAlign: align || 'left', textVerticalAlign: 'middle'
    }});
}
addText(39, 112, 'a', 66);
addText(1940, 114, 'b', 68);
addText(39, 1210, 'c', 64);
addText(3324, 1279, '% Vaccinated', 43);
addText(3324, 1782, 'Sample size', 44);
colorTicks.forEach(function (t) {
    var y = 1668 - t * 3.49;
    addText(3415, y, String(t), 33);
    if (t > 0 && t < 100) {
        graphics.push({type: 'line', silent: true, z: 20, shape: {x1: 3320, y1: y, x2: 3336, y2: y}, style: {stroke: '#fff', lineWidth: 2}});
        graphics.push({type: 'line', silent: true, z: 20, shape: {x1: 3375, y1: y, x2: 3391, y2: y}, style: {stroke: '#fff', lineWidth: 2}});
    }
});
var sizeLegendDia = [27,37,43,49,54,57];
sizeTicks.forEach(function (t, i) {
    var y = 1855 + i * 70.1;
    graphics.push({type: 'circle', silent: true, z: 20, shape: {cx: 3356, cy: y, r: sizeLegendDia[i] / 2}, style: {fill: 'rgba(30,30,30,0.8)'}});
    addText(3415, y, String(t), 33);
});
// north arrow
graphics.push({type: 'circle', silent: true, z: 20, shape: {cx: 3140, cy: 1382, r: 52}, style: {fill: 'none', stroke: '#111', lineWidth: 3}});
graphics.push({type: 'polygon', silent: true, z: 21, shape: {points: [[3139,1311],[3097,1430],[3139,1399]]}, style: {fill: '#fff', stroke: '#111', lineWidth: 3}});
graphics.push({type: 'polygon', silent: true, z: 21, shape: {points: [[3139,1311],[3183,1430],[3139,1399]]}, style: {fill: '#000', stroke: '#000', lineWidth: 2}});
addText(3139, 1285, 'N', 36, 'center');
// scale bar
addText(2714, 2205, '300 km', 33);
graphics.push({type: 'rect', silent: true, z: 20, shape: {x: 2841, y: 2190, width: 130, height: 30}, style: {fill: '#000'}});
graphics.push({type: 'rect', silent: true, z: 20, shape: {x: 2971, y: 2190, width: 126, height: 30}, style: {fill: '#fff', stroke: '#000', lineWidth: 2}});
graphics.push({type: 'rect', silent: true, z: 20, shape: {x: 3097, y: 2190, width: 130, height: 30}, style: {fill: '#000'}});

var myChart = echarts.init(document.getElementById('main'));
var option = {
    animation: false,
    backgroundColor: '#fff',
    textStyle: {fontFamily: fontName},
    title: [
        {text: '9-11 months', left: 767, top: 1167, textAlign: 'center', textStyle: {fontSize: 54, fontWeight: 'normal', color: '#111'}},
        {text: '12-23 months', left: 1771, top: 1167, textAlign: 'center', textStyle: {fontSize: 54, fontWeight: 'normal', color: '#111'}},
        {text: '24-35 months', left: 2775, top: 1167, textAlign: 'center', textStyle: {fontSize: 54, fontWeight: 'normal', color: '#111'}}
    ],
    legend: [
        {left: 746, top: 1099, icon: 'rect', itemWidth: 57, itemHeight: 7, itemGap: 32, padding: 0, selectedMode: false,
            data: ['Unweighted','Weighted'], textStyle: {fontSize: 39, color: '#222', padding: [0,0,0,27]}},
        {left: 2582, top: 1072, icon: 'rect', itemWidth: 63, itemHeight: 63, itemGap: 26, padding: 0, selectedMode: false,
            data: ['Unweighted','Weighted'], textStyle: {fontSize: 35, color: '#222', padding: [0,0,0,21]}}
    ],
    grid: [
        {left: 173, top: 47, width: 1714, height: 847, show: true, borderColor: '#333', borderWidth: 2},
        {left: 2062, top: 50, width: 1576, height: 849, show: true, borderColor: '#333', borderWidth: 2},
        {left: 298, top: 1246, width: 947, height: 1003},
        {left: 1301, top: 1246, width: 947, height: 1003},
        {left: 2306, top: 1246, width: 947, height: 1003}
    ],
    xAxis: xAxes,
    yAxis: yAxes,
    visualMap: {
        type: 'continuous', min: 0, max: 100, dimension: 3, seriesIndex: [7,8,9],
        left: 3320, top: 1320, itemWidth: 71, itemHeight: 348, padding: 0,
        calculable: false, hoverLink: false, showLabel: false, text: null,
        inRange: {color: ['#f7e500','#a8d822','#0ac84a','#00a872','#008a80','#00688a','#3a3f8a','#47287a','#4a0068']}
    },
    graphic: graphics,
    series: [
        lineSeries('Unweighted', purple, unweightedByAge),
        lineSeries('Weighted', teal, weightedByAge),
        barSeries('Unweighted', purple, unweightedByGroup),
        barSeries('Weighted', teal, weightedByGroup),
        countrySeries(0), countrySeries(1), countrySeries(2),
        clusterSeries(0, clusters911, 1), clusterSeries(1, clusters1223, 1.18), clusterSeries(2, clusters2435, 1.18)
    ]
};
myChart.setOption(option);

window.onresize = function () {
    myChart.resize();
};
</script>
</body>
</html>
